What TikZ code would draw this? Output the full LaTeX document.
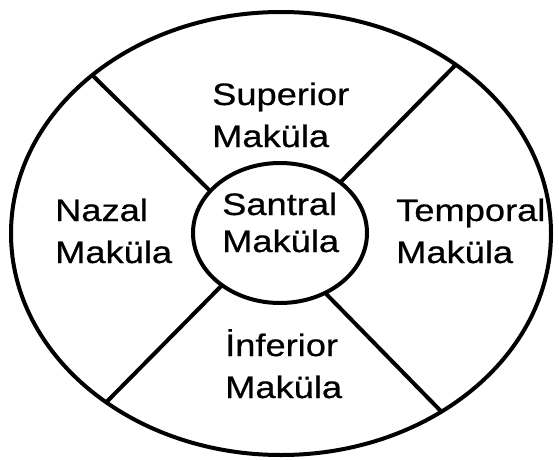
\documentclass[tikz,border=0pt]{standalone}
\usepackage{fontspec}
\setmainfont{Liberation Sans}[FakeStretch=1.17, FakeBold=0.6]
\usetikzlibrary{shapes.geometric}

\begin{document}
\begin{tikzpicture}[x=1pt, y=-1pt,
        zone/.style={ellipse, draw, line width=4pt, inner sep=0pt, outer sep=0pt},
        divider/.style={line width=4pt},
        region/.style={align=left, anchor=base west, inner sep=0pt,
            font=\fontsize{31}{42}\selectfont}]

    % Canvas
    \fill[white] (0,0) rectangle (559,460);

    % Outer and central ellipses
    \node[zone, minimum width=540pt, minimum height=443pt] (macula) at (281,233.5) {};
    \node[zone, minimum width=174pt, minimum height=140pt] (santral) at (280,233) {};

    % Dividing lines
    \draw[divider] (santral.149) -- (macula.140);
    \draw[divider] (santral.40) -- (macula.44);
    \draw[divider] (santral.222) -- (macula.224);
    \draw[divider] (santral.307) -- (macula.312);

    % Regions (anchored on the baseline of the last line)
    \node[region] (superior) at (212,147) {Superior\\Maküla};
    \node[region] (nazal) at (55,263) {Nazal\\Maküla};
    \node[region, font=\fontsize{31}{37}\selectfont] (central) at (222,252) {Santral\\Maküla};
    \node[region] (temporal) at (396,263) {Temporal\\Maküla};
    \node[region] (inferior) at (225,398) {İnferior\\Maküla};
\end{tikzpicture}
\end{document}
